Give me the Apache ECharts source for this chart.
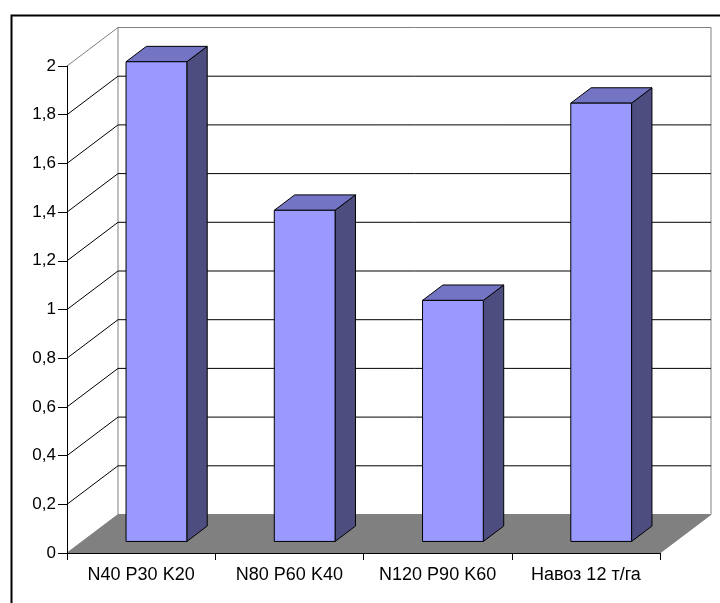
<!DOCTYPE html>
<html>
<head>
<meta charset="utf-8">
<script src="https://cdn.jsdelivr.net/npm/echarts@6/dist/echarts.min.js"></script>
<style>
  html, body { margin: 0; padding: 0; background: #fff; }
  #chart { width: 720px; height: 603px; }
</style>
</head>
<body>
<div id="chart"></div>
<script>
// Fertiliser treatments and their values
const categories = ['N40 P30 K20', 'N80 P60 K40', 'N120 P90 K60', 'Навоз 12 т/га'];
const values = [1.97, 1.36, 0.99, 1.80];
const yTicks = [0, 0.2, 0.4, 0.6, 0.8, 1, 1.2, 1.4, 1.6, 1.8, 2];

// Depth vector of the pseudo-3D box (pixels)
const DEPTH = [51, -38.5];
// Bar sits between these fractions of the box depth
const BAR_FRONT = 0.3, BAR_BACK = 0.7;
const BAR_WIDTH_RATIO = 0.41;

const FONT = "'Liberation Sans', Arial, sans-serif";

const chart = echarts.init(document.getElementById('chart'), null, { renderer: 'canvas' });

function fmt(v) {
  return String(+(+v).toFixed(1)).replace('.', ',');
}

// Back wall, side wall gridlines and floor
function renderWalls(params, api) {
  const cs = params.coordSys;
  const v = api.value(0);
  const y = api.coord([0, v])[1];
  const x0 = cs.x, x1 = cs.x + cs.width;
  const dx = DEPTH[0], dy = DEPTH[1];
  const children = [];
  const isTop = v === yTicks[yTicks.length - 1];
  const isBottom = v === yTicks[0];
  if (isBottom) {
    const yTop = api.coord([0, yTicks[yTicks.length - 1]])[1];
    // wall edges (grey)
    children.push({
      type: 'polyline',
      shape: { points: [[x0 + dx, y + dy], [x0 + dx, yTop + dy]] },
      style: { stroke: '#808080', lineWidth: 1, fill: null }
    });
    children.push({
      type: 'polyline',
      shape: { points: [[x1 + dx, y + dy], [x1 + dx, yTop + dy]] },
      style: { stroke: '#808080', lineWidth: 1, fill: null }
    });
    // floor
    children.push({
      type: 'polygon',
      shape: { points: [[x0, y], [x1, y], [x1 + dx, y + dy], [x0 + dx, y + dy]] },
      style: { fill: '#808080', stroke: '#808080', lineWidth: 1 }
    });
  } else {
    children.push({
      type: 'polyline',
      shape: { points: [[x0, y], [x0 + dx, y + dy], [x1 + dx, y + dy]] },
      style: { stroke: isTop ? '#808080' : '#000000', lineWidth: 1, fill: null }
    });
  }
  return { type: 'group', children: children };
}

// 3D column: front face, top face, side face
function renderBar(params, api) {
  const i = api.value(0);
  const v = api.value(1);
  const base = api.coord([i, 0]);
  const top = api.coord([i, v]);
  const band = api.size([1, 0])[0];
  const w = band * BAR_WIDTH_RATIO;
  const fx = DEPTH[0] * BAR_FRONT, fy = DEPTH[1] * BAR_FRONT;
  const ddx = DEPTH[0] * (BAR_BACK - BAR_FRONT), ddy = DEPTH[1] * (BAR_BACK - BAR_FRONT);
  const L = base[0] + fx - w / 2, R = base[0] + fx + w / 2;
  const B = base[1] + fy, T = top[1] + fy;
  const stroke = { stroke: '#000000', lineWidth: 1, lineJoin: 'miter' };
  return {
    type: 'group',
    children: [
      {
        type: 'polygon',
        shape: { points: [[R, B], [R + ddx, B + ddy], [R + ddx, T + ddy], [R, T]] },
        style: Object.assign({ fill: '#4d4d80' }, stroke)
      },
      {
        type: 'polygon',
        shape: { points: [[L, T], [R, T], [R + ddx, T + ddy], [L + ddx, T + ddy]] },
        style: Object.assign({ fill: '#7474c4' }, stroke)
      },
      {
        type: 'rect',
        shape: { x: L, y: T, width: R - L, height: B - T },
        style: Object.assign({ fill: '#9999ff' }, stroke)
      }
    ]
  };
}

const option = {
  animation: false,
  backgroundColor: '#ffffff',
  graphic: [{
    type: 'rect',
    left: 9, top: 13,
    shape: { x: 0, y: 0, width: 900, height: 900 },
    style: { fill: null, stroke: '#000000', lineWidth: 2 },
    silent: true
  }],
  grid: { left: 67, top: 66, width: 593, height: 487, containLabel: false },
  xAxis: {
    type: 'category',
    data: categories,
    z: 10,
    axisLine: { show: true, lineStyle: { color: '#000000', width: 1 } },
    axisTick: { show: true, length: 7, interval: 0, lineStyle: { color: '#000000' } },
    axisLabel: { color: '#000000', fontFamily: FONT, fontSize: 18, margin: 13, interval: 0 },
    splitLine: { show: false }
  },
  yAxis: {
    type: 'value',
    min: yTicks[0],
    max: yTicks[yTicks.length - 1],
    interval: 0.2,
    z: 10,
    axisLine: { show: true, lineStyle: { color: '#000000', width: 1 } },
    axisTick: { show: true, length: 9, lineStyle: { color: '#000000' } },
    axisLabel: { color: '#000000', fontFamily: FONT, fontSize: 17, margin: 11, formatter: fmt },
    splitLine: { show: false }
  },
  series: [
    {
      type: 'custom',
      name: 'walls',
      z: 1,
      clip: false,
      silent: true,
      renderItem: renderWalls,
      data: yTicks.map(function (t) { return [t]; }),
      encode: { y: 0 }
    },
    {
      type: 'custom',
      name: 'bars',
      z: 3,
      clip: false,
      renderItem: renderBar,
      data: values.map(function (v, i) { return [i, v]; }),
      encode: { x: 0, y: 1 }
    }
  ]
};

chart.setOption(option);
</script>
</body>
</html>
